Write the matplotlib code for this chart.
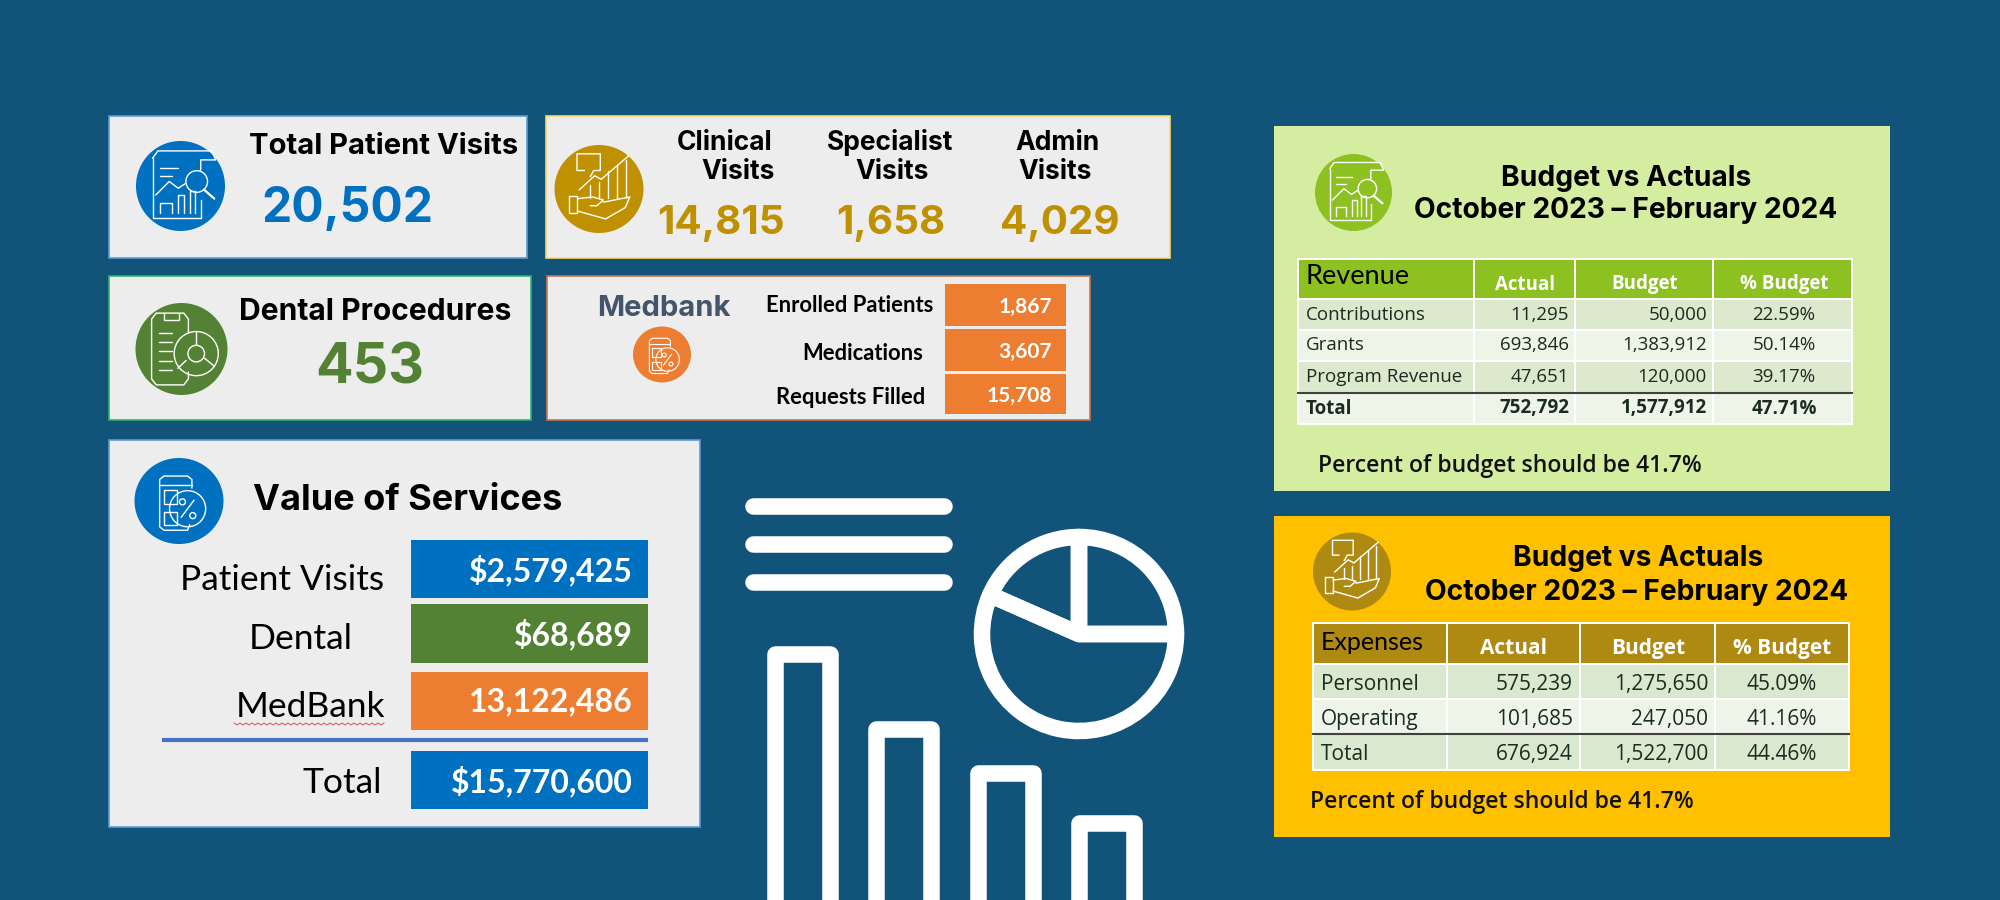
import numpy as np
import matplotlib
matplotlib.use("Agg")
import matplotlib.pyplot as plt
from matplotlib.patches import Rectangle, Ellipse, Circle

BG = "#115379"
CARD = "#ededed"
BLUE = "#0070c0"
GOLD = "#bf9000"
GREEN = "#548235"
ORANGE = "#ed7d31"
HEAD = "Inter"
BODY = "Lato"
TABLE = "Open Sans"

# card values
total_visits = 20502
visit_names = ["Clinical", "Specialist", "Admin"]
visit_values = [14815, 1658, 4029]
dental_procedures = 453
medbank_labels = ["Enrolled Patients", "Medications", "Requests Filled"]
medbank_values = [1867, 3607, 15708]
service_labels = ["Patient Visits", "Dental", "MedBank", "Total"]
service_values = [2579425, 68689, 13122486, 15770600]
service_text = ["$2,579,425", "$68,689", "13,122,486", "$15,770,600"]

# budget tables
rev_names = ["Contributions", "Grants", "Program Revenue", "Total"]
rev_actual = [11295, 693846, 47651, 752792]
rev_budget = [50000, 1383912, 120000, 1577912]
rev_pct = [22.59, 50.14, 39.17, 47.71]
exp_names = ["Personnel", "Operating", "Total"]
exp_actual = [575239, 101685, 676924]
exp_budget = [1275650, 247050, 1522700]
exp_pct = [45.09, 41.16, 44.46]
table_cols = ["Actual", "Budget", "% Budget"]

# big decoration on the middle
icon_pie = [25, 18.4, 56.6]
icon_bars = [246, 171, 127, 77]

fig = plt.figure(figsize=(20, 9), dpi=100, facecolor=BG)
ax = fig.add_axes([0, 0, 1, 1])
ax.set_xlim(0, 2000)
ax.set_ylim(900, 0)
ax.set_axis_off()

# text sits a little high with va=center, so each family gets a small nudge
nudge = {HEAD: 3, BODY: 2, TABLE: 1.5}


def box(x0, y0, x1, y1, color, edge="none", lw=0, z=1):
    ax.add_patch(Rectangle((x0, y0), x1 - x0, y1 - y0, fc=color, ec=edge, lw=lw, zorder=z))


def txt(x, y, s, size, color="black", weight="normal", ha="center", family=BODY):
    ax.text(x, y + nudge[family], s, fontsize=size, color=color, fontweight=weight, ha=ha, va="center",
            family=family, zorder=5)


def line(cx, cy, r, xs, ys, lw=1.0):
    ax.plot(cx + np.array(xs) * r, cy + np.array(ys) * r, color="white", lw=lw, zorder=4,
            solid_capstyle="round", solid_joinstyle="round")


def ring(cx, cy, r, x, y, rad, lw=1.0):
    ax.add_patch(Circle((cx + x * r, cy + y * r), rad * r, fc="none", ec="white", lw=lw, zorder=4))


def report_icon(cx, cy, r, lw=1.0):
    line(cx, cy, r, [-.62, -.62, .45, .45], [-.62, .72, .72, .3], lw)
    line(cx, cy, r, [-.62, -.5, .7, .78, .45, .45], [-.62, -.78, -.78, -.58, -.58, -.35], lw)
    line(cx, cy, r, [-.45, -.05], [-.4, -.4], lw)
    line(cx, cy, r, [-.45, -.2], [-.22, -.22], lw)
    line(cx, cy, r, [-.55, -.25, -.05, .1], [.2, -.1, .05, -.05], lw)
    line(cx, cy, r, [-.45, -.45, -.2, -.2], [.6, .38, .38, .6], lw)
    line(cx, cy, r, [-.05, -.05, .08, .08], [.6, .2, .2, .6], lw)
    line(cx, cy, r, [.2, .2, .33, .33], [.6, .1, .1, .6], lw)
    ring(cx, cy, r, .36, -.1, .24, lw)
    line(cx, cy, r, [.52, .75], [.08, .28], lw + .6)


def hand_icon(cx, cy, r, lw=1.0):
    # speech bubble
    line(cx, cy, r, [-.33, -.5, -.5, .03, .03, -.12, -.2], [-.42, -.42, -.8, -.8, -.42, -.42, -.28], lw)
    # arrow and bars
    line(cx, cy, r, [-.45, -.1, .05, .67], [.02, -.3, -.22, -.75], lw)
    for x, top in zip([-.2, 0, .2, .4, .62], [-.1, -.15, -.4, -.55, -.65]):
        line(cx, cy, r, [x, x], [.2, top], lw)
    # hand
    line(cx, cy, r, [-.69, -.49, -.49, -.69, -.69], [.15, .15, .55, .55, .15], lw)
    line(cx, cy, r, [-.49, -.15, .1, -.05, -.2], [.22, .18, .25, .38, .38], lw)
    line(cx, cy, r, [.1, .7, .6, .15, -.49], [.3, .18, .42, .68, .5], lw)


def clip_icon(cx, cy, r, lw=1.0):
    line(cx, cy, r, [.15, .15, .05, -.55, -.65, -.65, -.55, .05, .15, .15],
         [-.35, -.65, -.78, -.78, -.65, .65, .78, .78, .65, .5], lw)
    line(cx, cy, r, [-.38, -.38, -.05, -.05], [-.78, -.62, -.62, -.78], lw)
    ring(cx, cy, r, .32, .1, .48, lw)
    ring(cx, cy, r, .32, .1, .18, lw)
    line(cx, cy, r, [.32, .32], [-.38, -.08], lw)
    line(cx, cy, r, [.1, -.08], [.25, .42], lw)
    line(cx, cy, r, [.5, .72], [.2, .38], lw)
    for y in [-.35, -.15, .05, .25, .45]:
        line(cx, cy, r, [-.5, -.2], [y, y], lw)


def calc_icon(cx, cy, r, lw=1.0):
    line(cx, cy, r, [.3, .3, .2, -.35, -.45, -.45, -.35, .2, .25], [-.3, -.5, -.58, -.58, -.5, .6, .68, .68, .55], lw)
    line(cx, cy, r, [-.45, .3], [-.38, -.38], lw)
    line(cx, cy, r, [-.35, -.05, -.05, -.35, -.35], [-.25, -.25, .08, .08, -.25], lw)
    line(cx, cy, r, [-.35, -.05, -.05, -.35, -.35], [.25, .25, .55, .55, .25], lw)
    ring(cx, cy, r, .2, .18, .42, lw)
    line(cx, cy, r, [.05, .35], [.38, -.02], lw)
    ring(cx, cy, r, .08, .02, .07, lw)
    ring(cx, cy, r, .32, .34, .07, lw)


def medallion(cx, cy, rx, ry, color, icon, lw=1.0):
    ax.add_patch(Ellipse((cx, cy), rx * 2, ry * 2, fc=color, ec="none", zorder=3))
    icon(cx, cy, ry, lw)


# top left cards
box(109, 116, 527, 258, CARD, "#5b9bd5", 1.2)
medallion(180.5, 186, 44.5, 45, BLUE, report_icon)
txt(249, 144, "Total Patient Visits", 21, weight="bold", ha="left", family=HEAD)
txt(261, 206, f"{total_visits:,}", 34.5, BLUE, "bold", "left", HEAD)

box(546, 116, 1170, 258, CARD, "#ffd966", 1.2)
medallion(599, 189, 44.5, 44, GOLD, hand_icon)
name_x = [725, 890, 1057]
visits_x = [738, 892, 1055]
value_x = [721, 891, 1060]
for i in range(3):
    txt(name_x[i], 140, visit_names[i], 19, weight="bold", family=HEAD)
    txt(visits_x[i], 169, "Visits", 19, weight="bold", family=HEAD)
    txt(value_x[i], 220, f"{visit_values[i]:,}", 29, GOLD, "bold", family=HEAD)

box(109, 276, 531, 420, CARD, "#33b06a", 1.2)
medallion(181.5, 349, 46, 46, GREEN, clip_icon)
txt(239, 309, "Dental Procedures", 21.6, weight="bold", ha="left", family=HEAD)
txt(370, 366, f"{dental_procedures}", 40, GREEN, "bold", family=HEAD)

box(547, 276, 1090, 420, CARD, "#c9744a", 1.2)
txt(664, 306, "Medbank", 21, "#44546a", "bold", family=HEAD)
medallion(662, 354.5, 29, 28, ORANGE, calc_icon, .8)
mb_right = [933, 923, 925]
mb_y = [304, 352, 396]
mb_top = [284, 329, 374]
mb_bot = [326, 371, 414]
for i in range(3):
    txt(mb_right[i], mb_y[i], medbank_labels[i], 15.8, weight="bold", ha="right")
    box(945, mb_top[i], 1066, mb_bot[i], ORANGE, z=2)
    txt(1052, (mb_top[i] + mb_bot[i]) / 2, f"{medbank_values[i]:,}", 15, "white", "bold", "right")

# value of services
box(109, 440, 700, 827, CARD, "#5b9bd5", 1.2)
medallion(179, 501, 44.5, 43, BLUE, calc_icon)
txt(253, 497, "Value of Services", 26, weight="bold", ha="left", family=HEAD)
sv_right = [384, 353, 385, 382]
sv_y = [578, 637, 705, 781]
sv_top = [540, 604, 672, 751]
sv_bot = [598, 663, 730, 809]
sv_num_y = [568, 632, 700, 779]
sv_col = [BLUE, GREEN, ORANGE, BLUE]
for i in range(4):
    txt(sv_right[i], sv_y[i], service_labels[i], 25.5, ha="right")
    box(411, sv_top[i], 648, sv_bot[i], sv_col[i], z=2)
    txt(633, sv_num_y[i], service_text[i], 23, "white", "bold", "right")
ax.plot([162, 648], [740, 740], color="#4472c4", lw=3, solid_capstyle="butt", zorder=3)
sq_x = np.arange(234, 387, 3)
ax.plot(sq_x, 724 + np.where(np.arange(len(sq_x)) % 2 == 0, -1, 1), color="#e05050", lw=.7, zorder=3)

# white decoration
for y in [506, 544, 582]:
    ax.plot([753, 944], [y, y], color="white", lw=11.9, solid_capstyle="round", zorder=2)
ax.bar([802.5, 903.5, 1005.5, 1106.5], -np.array(icon_bars) - 20, bottom=920, width=55,
       fc="none", ec="white", lw=11.9, joinstyle="round", zorder=2)
pie_ax = fig.add_axes([(1079 - 112) / 2000, 1 - (634 + 112) / 900, 224 / 2000, 224 / 900])
pie_ax.pie(icon_pie, radius=97, startangle=0, counterclock=True,
           wedgeprops={"fc": "none", "ec": "white", "lw": 11.9, "joinstyle": "round"})
pie_ax.set_xlim(-112, 112)
pie_ax.set_ylim(-112, 112)


def budget_table(names, actual, budget, pct, xs, ys, head, colors, label, label_size, label_y, head_y,
                 row_y, right_a, right_b, pct_x, head_x, size, bold_total, dark_line):
    x0, x1, x2, x3, x4 = xs
    box(x0 - 1, ys[0] - 1, x4 + 1, ys[-1] + 1, "white", z=2)
    for j in range(len(xs) - 1):
        box(xs[j] + 1, ys[0] + 1, xs[j + 1] - 1, ys[1] - 1, head, z=3)
        for i in range(len(names)):
            box(xs[j] + 1, ys[i + 1] + 1, xs[j + 1] - 1, ys[i + 2] - 1, colors[i], z=3)
    txt(x0 + 8, label_y, label, label_size, ha="left")
    for j in range(3):
        txt(head_x[j], head_y, table_cols[j], size, "white", "bold", family=TABLE)
    for i in range(len(names)):
        w = "bold" if bold_total and names[i] == "Total" else "normal"
        c = "#1a2b20"
        txt(x0 + 8, row_y[i], names[i], size, c, w, "left", TABLE)
        txt(right_a, row_y[i], f"{actual[i]:,}", size, c, w, "right", TABLE)
        txt(right_b, row_y[i], f"{budget[i]:,}", size, c, w, "right", TABLE)
        txt(pct_x, row_y[i], f"{pct[i]:.2f}%", size, c, w, family=TABLE)
    ax.plot([x0, x4], [dark_line, dark_line], color="#404040", lw=1.5, zorder=4)


# revenue panel
box(1274, 126, 1890, 491, "#d5eda0")
medallion(1353.5, 192.5, 38.5, 38.5, "#8dc021", report_icon)
txt(1626, 176, "Budget vs Actuals", 20.3, weight="bold", family=HEAD)
txt(1626, 208, "October 2023 – February 2024", 20.3, weight="bold", family=HEAD)
budget_table(rev_names, rev_actual, rev_budget, rev_pct, [1298, 1474, 1575, 1713, 1852],
             [259, 299, 330, 361, 393, 424], "#8dc021", ["#dde9cd", "#eff4e8", "#dde9cd", "#eff4e8"],
             "Revenue", 19.5, 275, 283, [313, 344, 376, 407], 1569, 1707, 1784, [1525, 1645, 1784],
             13.5, True, 393)
txt(1318, 465, "Percent of budget should be 41.7%", 16.6, "#111111", "semibold", "left", TABLE)

# expenses panel
box(1274, 516, 1890, 837, "#ffc000")
medallion(1352, 571.5, 39, 39, "#af8a13", hand_icon)
txt(1638, 556, "Budget vs Actuals", 20.3, weight="bold", family=HEAD)
txt(1637, 589, "October 2023 – February 2024", 20.3, weight="bold", family=HEAD)
budget_table(exp_names, exp_actual, exp_budget, exp_pct, [1313, 1447, 1580, 1715, 1849],
             [623, 664, 699, 734, 770], "#af8a13", ["#dae8cf", "#eff4e8", "#dae8cf"],
             "Expenses", 18, 640, 647, [683, 718, 753], 1573, 1708, 1782, [1514, 1648, 1782],
             15, False, 734)
txt(1310, 801, "Percent of budget should be 41.7%", 16.6, "#111111", "semibold", "left", TABLE)

fig.savefig("out.png", dpi=100)
